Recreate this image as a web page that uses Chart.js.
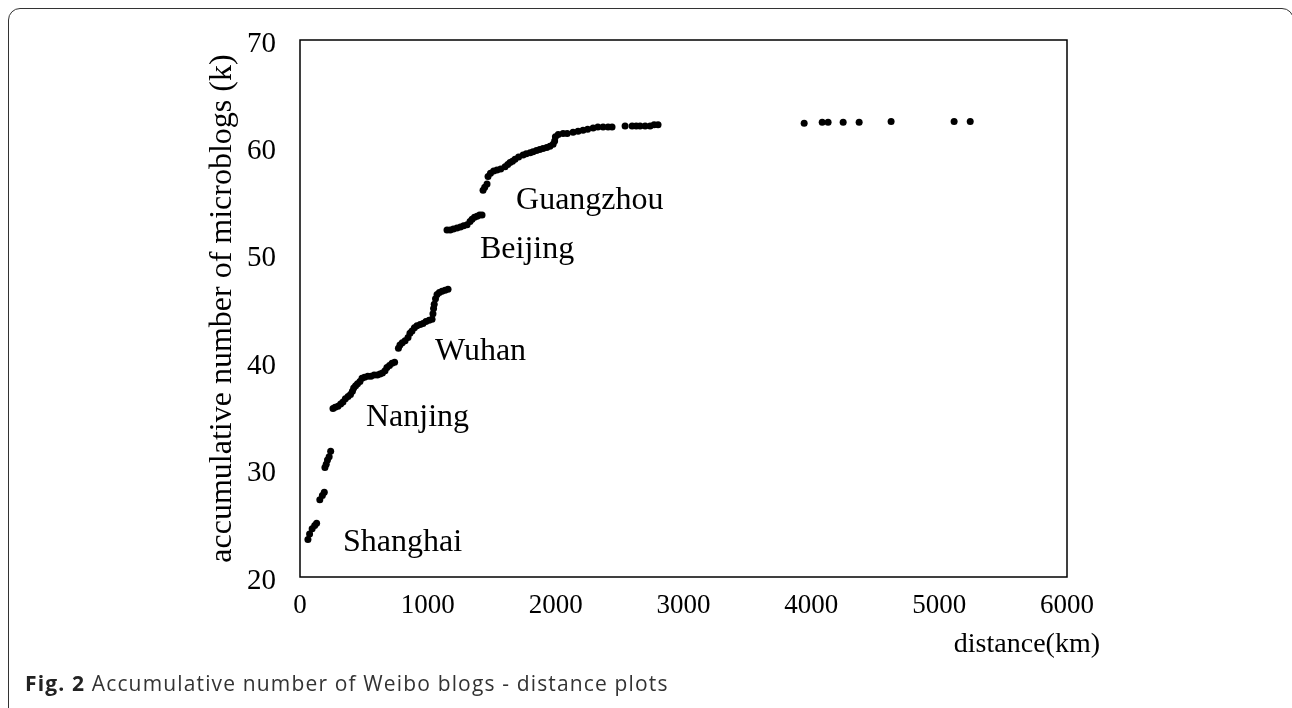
<!DOCTYPE html>
<html>
<head>
<meta charset="utf-8">
<script src="https://cdn.jsdelivr.net/npm/chart.js"></script>
<style>
  body { margin: 0; background: #fff; }
  #wrap { position: relative; width: 1292px; height: 708px; overflow: hidden; }
  #frame { position: absolute; left: 8px; top: 8px; width: 1284px; height: 760px;
           border: 1.5px solid #333; border-radius: 12px; }
  #myChart { position: absolute; left: 0; top: 0; }
  #caption { position: absolute; left: 25px; top: 671px; font-family: "Open Sans", sans-serif;
             font-size: 21px; line-height: 24px; letter-spacing: 1.15px; color: #333; }
  #caption b { color: #222; }
</style>
</head>
<body>
<div id="wrap">
  <div id="frame"></div>
  <canvas id="myChart" width="1292" height="708"></canvas>
  <div id="caption"><b>Fig. 2</b> Accumulative number of Weibo blogs - distance plots</div>
</div>
<script>
// distance (km)
const distances = [
    62, 75, 95, 115, 130,
    155, 175, 190,
    195, 205, 215, 228, 240,
    258, 275, 297, 318, 336, 355, 376, 395, 410, 420, 435, 450, 469, 485, 505, 530, 555, 580, 605, 626, 645, 665, 680, 700, 720, 740,
    770, 782, 800, 822, 845, 860, 876, 895, 915, 940, 962, 985, 1010, 1033, 1040, 1045, 1050, 1060, 1072, 1090, 1111, 1135, 1158,
    1150, 1175, 1200, 1228, 1255, 1280, 1307, 1330, 1346, 1365, 1385, 1405, 1424,
    1432, 1445, 1463, 1471, 1490, 1515, 1541, 1570, 1604, 1625, 1643, 1662, 1682, 1710, 1745, 1770, 1800, 1823, 1850, 1875, 1901, 1930, 1955, 1980, 1992,
    1998, 2020, 2058, 2090, 2136, 2175, 2214, 2250, 2293, 2330, 2371, 2410, 2441, 2543, 2598, 2630, 2660, 2700, 2739, 2770, 2801,
    3944, 4085, 4131, 4249, 4374, 4624, 5117, 5243
];
// accumulative number of microblogs (k)
const counts = [
    23.5, 24.0, 24.5, 24.8, 25.0,
    27.2, 27.6, 27.9,
    30.2, 30.5, 30.9, 31.2, 31.7,
    35.7, 35.8, 35.9, 36.1, 36.3, 36.6, 36.8, 37.0, 37.3, 37.6, 37.8, 38.0, 38.2, 38.5, 38.6, 38.7, 38.7, 38.8, 38.8, 38.9, 39.0, 39.2, 39.5, 39.7, 39.9, 40.0,
    41.3, 41.6, 41.8, 42.0, 42.3, 42.7, 42.9, 43.2, 43.4, 43.5, 43.6, 43.8, 43.9, 44.0, 44.5, 45.0, 45.4, 45.9, 46.3, 46.5, 46.6, 46.7, 46.8,
    52.3, 52.3, 52.4, 52.5, 52.6, 52.7, 52.8, 53.1, 53.3, 53.5, 53.6, 53.7, 53.7,
    56.0, 56.3, 56.6, 57.3, 57.6, 57.8, 57.9, 58.0, 58.2, 58.4, 58.6, 58.7, 58.9, 59.1, 59.3, 59.4, 59.5, 59.6, 59.7, 59.8, 59.9, 60.0, 60.1, 60.3, 60.6,
    61.0, 61.2, 61.3, 61.3, 61.4, 61.5, 61.6, 61.7, 61.8, 61.9, 61.9, 61.9, 61.9, 62.0, 62.0, 62.0, 62.0, 62.0, 62.0, 62.1, 62.1,
    62.25, 62.35, 62.35, 62.35, 62.35, 62.4, 62.4, 62.4
];
const xTicks = [0, 1000, 2000, 3000, 4000, 5000, 6000];
const yTicks = [20, 30, 40, 50, 60, 70];

const cityNames = ['Shanghai', 'Nanjing', 'Wuhan', 'Beijing', 'Guangzhou'];
const cityAtX = [336, 516, 1056, 1408, 1690];
const cityAtY = [22.4, 34.06, 40.2, 49.7, 54.26];

const points = distances.map((d, i) => ({ x: d, y: counts[i] }));

const serif = "'Liberation Serif', 'Times New Roman', serif";

const extras = {
  id: 'extras',
  afterDraw(chart) {
    const ctx = chart.ctx;
    const a = chart.chartArea;
    ctx.save();
    ctx.strokeStyle = '#000';
    ctx.lineWidth = 1.5;
    ctx.strokeRect(a.left, a.top, a.right - a.left, a.bottom - a.top);

    ctx.fillStyle = '#000';
    ctx.font = '32px ' + serif;
    ctx.textAlign = 'left';
    ctx.textBaseline = 'alphabetic';
    cityNames.forEach((name, i) => {
      ctx.fillText(name, chart.scales.x.getPixelForValue(cityAtX[i]),
                   chart.scales.y.getPixelForValue(cityAtY[i]));
    });

    ctx.font = '28px ' + serif;
    ctx.textAlign = 'right';
    ctx.fillText('distance(km)', a.right + 33, a.bottom + 75);
    ctx.restore();
  }
};

const config = {
  type: 'scatter',
  data: {
    datasets: [{
      data: points,
      backgroundColor: '#000',
      borderWidth: 0,
      pointRadius: 3.5,
      pointStyle: 'circle'
    }]
  },
  options: {
    responsive: false,
    animation: false,
    layout: { padding: { left: 0, top: 40, right: 225, bottom: 0 } },
    plugins: { legend: { display: false }, tooltip: { enabled: false } },
    scales: {
      x: {
        type: 'linear',
        min: 0, max: 6000,
        afterBuildTicks: s => { s.ticks = xTicks.map(v => ({ value: v })); },
        afterFit: s => { s.height = 131; s.paddingLeft = 0; s.paddingRight = 0; },
        grid: { display: false, drawTicks: false },
        border: { display: false },
        ticks: { color: '#000', padding: 13, font: { family: serif, size: 27 },
                 callback: v => String(v) }
      },
      y: {
        min: 20, max: 70,
        afterBuildTicks: s => { s.ticks = yTicks.map(v => ({ value: v })); },
        afterFit: s => { s.width = 300; s.paddingTop = 0; s.paddingBottom = 0; },
        grid: { display: false, drawTicks: false },
        border: { display: false },
        ticks: { color: '#000', padding: 24, labelOffset: 4, font: { family: serif, size: 29 },
                 callback: v => String(v) },
        title: {
          display: true,
          text: 'accumulative number of microblogs (k)',
          color: '#000',
          font: { family: serif, size: 32 },
          padding: { top: 203, bottom: 0 }
        }
      }
    }
  },
  plugins: [extras]
};

const myChart = new Chart(document.getElementById('myChart'), config);
</script>
</body>
</html>
